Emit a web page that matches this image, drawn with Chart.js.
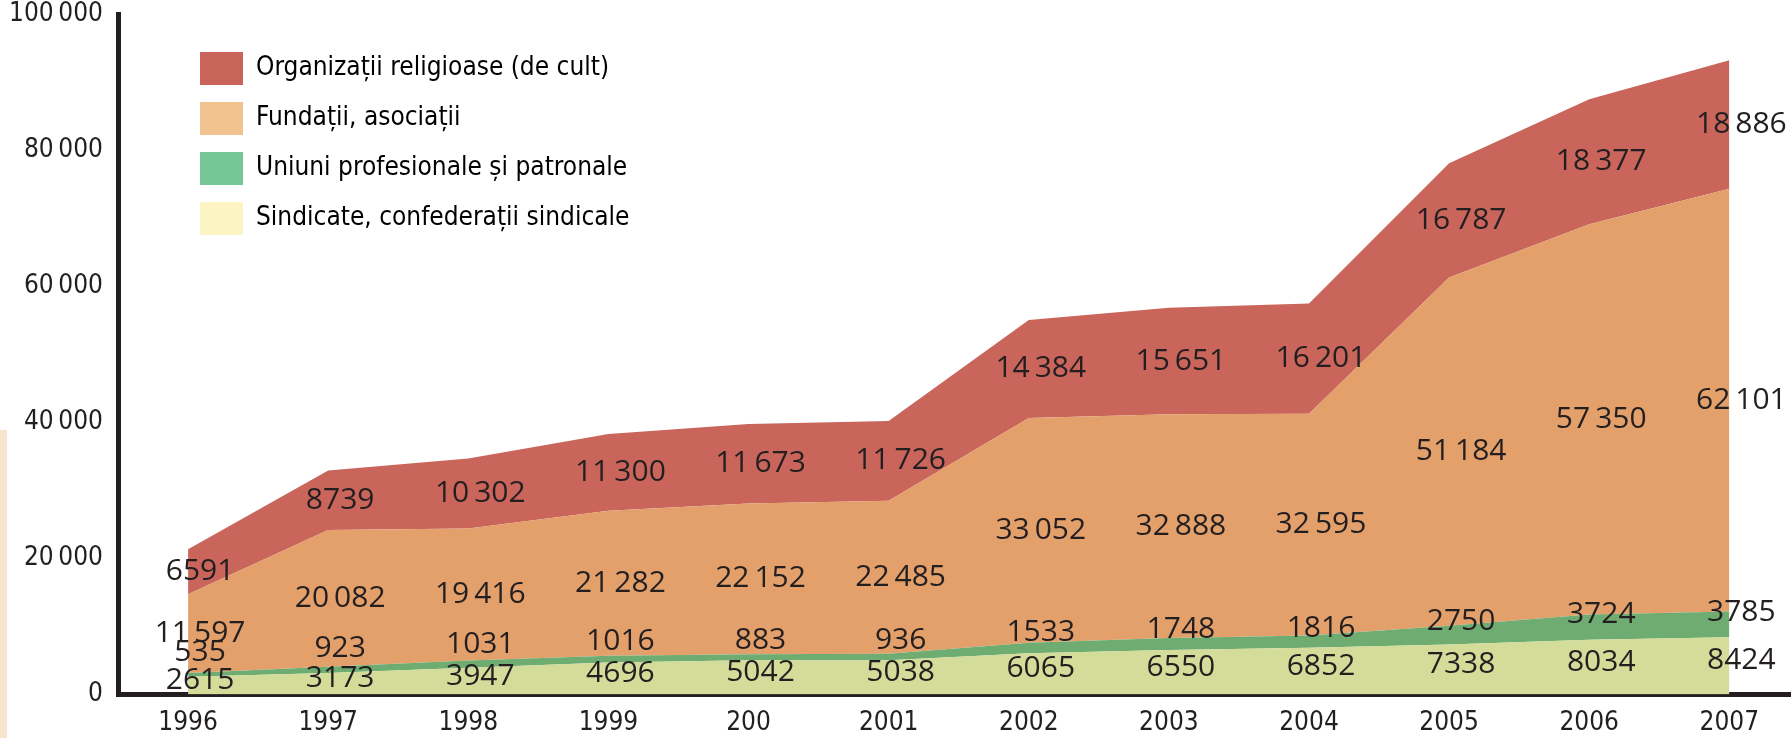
<!DOCTYPE html>
<html>
<head>
<meta charset="utf-8">
<script src="https://cdn.jsdelivr.net/npm/chart.js@4.4.1/dist/chart.umd.min.js"></script>
<style>
  html, body { margin: 0; padding: 0; background: #ffffff; }
  #wrap { position: relative; width: 1791px; height: 738px; }
  #strip { position: absolute; left: 0; top: 430px; width: 7px; height: 308px; background: #f6e6ce; }
</style>
</head>
<body>
<div id="wrap">
  <canvas id="c"></canvas>
  <div id="strip"></div>
</div>
<script>
// ---- data ----
const categories = ['1996','1997','1998','1999','200','2001','2002','2003','2004','2005','2006','2007'];
const sindicate  = [2615, 3173, 3947, 4696, 5042, 5038, 6065, 6550, 6852, 7338, 8034, 8424];
const uniuni     = [535, 923, 1031, 1016, 883, 936, 1533, 1748, 1816, 2750, 3724, 3785];
const fundatii   = [11597, 20082, 19416, 21282, 22152, 22485, 33052, 32888, 32595, 51184, 57350, 62101];
const religioase = [6591, 8739, 10302, 11300, 11673, 11726, 14384, 15651, 16201, 16787, 18377, 18886];
const yTicks     = [0, 20000, 40000, 60000, 80000, 100000];
const seriesNames = [
  'Sindicate, confederații sindicale',
  'Uniuni profesionale și patronale',
  'Fundații, asociații',
  'Organizații religioase (de cult)'
];

// ---- styles ----
const areaColors   = ['#d4dc99', '#6fac71', '#e3a06b', '#c9655b'];
const legendColors = ['#fdf4c3', '#74c794', '#f1c48f', '#c9645a'];
const ink = '#231f20';
const narrow = "'Liberation Sans Narrow', 'DejaVu Sans Condensed', 'Roboto Condensed', 'Liberation Sans', sans-serif";
const labelFont = "30px 'Open Sans', 'Liberation Sans', sans-serif";

function fmt(v) {
  const s = String(v);
  if (v >= 10000) return s.slice(0, s.length - 3) + '\u2009' + s.slice(s.length - 3);
  return s;
}

const seriesData = [sindicate, uniuni, fundatii, religioase];
const datasets = seriesData.map((arr, k) => ({
  label: seriesNames[k],
  data: arr.map((v, i) => ({ x: i, y: v })),
  backgroundColor: areaColors[k],
  borderColor: areaColors[k],
  borderWidth: 0,
  pointRadius: 0,
  pointHoverRadius: 0,
  tension: 0,
  fill: k === 0 ? 'origin' : '-1'
}));

const legendShift = {
  id: 'legendShift',
  afterLayout(chart) {
    const lg = chart.legend;
    if (!lg) return;
    const w = lg.width, h = lg.height;
    lg.left = chart.chartArea.left + 65;
    lg.top = chart.chartArea.top + 21;
    lg.right = lg.left + w;
    lg.bottom = lg.top + h;
  }
};

const valueLabels = {
  id: 'valueLabels',
  afterDatasetsDraw(chart) {
    const ctx = chart.ctx;
    const xs = chart.scales.x, ys = chart.scales.y;
    const base = ys.getPixelForValue(0);
    ctx.save();
    ctx.font = labelFont;
    ctx.fillStyle = ink;
    ctx.textAlign = 'center';
    ctx.textBaseline = 'middle';
    categories.forEach((c, i) => {
      const x = xs.getPixelForValue(i) + 12;
      const c0 = sindicate[i];
      const c1 = c0 + uniuni[i];
      const c2 = c1 + fundatii[i];
      const c3 = c2 + religioase[i];
      const p0 = ys.getPixelForValue(c0);
      const p1 = ys.getPixelForValue(c1);
      const p2 = ys.getPixelForValue(c2);
      const p3 = ys.getPixelForValue(c3);
      ctx.fillText(fmt(sindicate[i]), x, (p0 + base) / 2 - 5);
      ctx.fillText(fmt(uniuni[i]), x, base - (0.65 * (base - p1) + 28));
      ctx.fillText(fmt(fundatii[i]), x, (p1 + p2) / 2);
      ctx.fillText(fmt(religioase[i]), x, (p2 + p3) / 2);
    });
    ctx.restore();
  }
};

new Chart(document.getElementById('c'), {
  type: 'line',
  data: { datasets },
  options: {
    responsive: true,
    maintainAspectRatio: false,
    animation: false,
    devicePixelRatio: 1,
    layout: { padding: { top: 14, left: 0, right: 0, bottom: 0 } },
    interaction: { mode: 'nearest', intersect: true },
    plugins: {
      tooltip: { enabled: false },
      legend: {
        position: 'chartArea',
        align: 'start',
        reverse: true,
        labels: {
          boxWidth: 43,
          boxHeight: 33,
          padding: 17,
          color: ink,
          font: { family: narrow, size: 26 },
          generateLabels(chart) {
            return chart.data.datasets.map((ds, k) => ({
              text: ds.label,
              fillStyle: legendColors[k],
              strokeStyle: legendColors[k],
              lineWidth: 0,
              hidden: false,
              datasetIndex: k
            }));
          }
        }
      }
    },
    scales: {
      x: {
        type: 'linear',
        min: -0.5,
        max: 11.44,
        grid: { display: false, drawTicks: false },
        border: { display: true, color: ink, width: 5 },
        ticks: {
          color: ink,
          padding: 13,
          font: { family: narrow, size: 26 },
          autoSkip: false,
          maxRotation: 0,
          callback: (v) => categories[v] ?? ''
        },
        afterBuildTicks: (s) => { s.ticks = categories.map((_, i) => ({ value: i })); },
        afterFit: (s) => { s.height = 43.5; s.paddingLeft = 0; s.paddingRight = 0; }
      },
      y: {
        stacked: true,
        min: 0,
        max: 100000,
        grid: { display: false, drawTicks: false },
        border: { display: true, color: ink, width: 5 },
        ticks: {
          color: ink,
          padding: 15,
          font: { family: narrow, size: 26 },
          callback: (v) => fmt(v)
        },
        afterBuildTicks: (s) => { s.ticks = yTicks.map(v => ({ value: v })); },
        afterFit: (s) => { s.width = 118; s.paddingTop = 0; s.paddingBottom = 0; }
      }
    }
  },
  plugins: [legendShift, valueLabels]
});
</script>
</body>
</html>
